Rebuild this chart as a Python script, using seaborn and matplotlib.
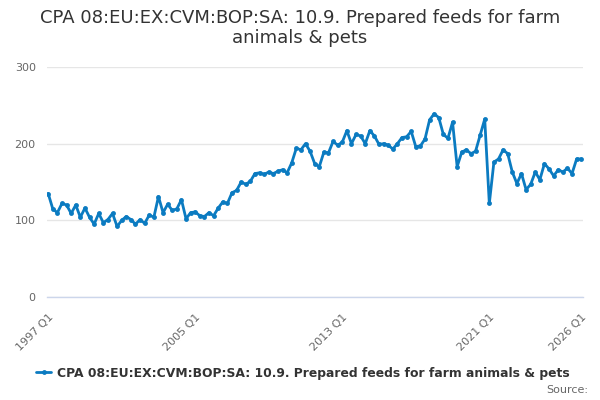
import matplotlib
matplotlib.use('Agg')
import matplotlib.pyplot as plt
import numpy as np
import pandas as pd
import seaborn as sns

series_name = 'CPA 08:EU:EX:CVM:BOP:SA: 10.9. Prepared feeds for farm animals & pets'
title = 'CPA 08:EU:EX:CVM:BOP:SA: 10.9. Prepared feeds for farm\nanimals & pets'

# quarters 1997 Q1 .. 2026 Q1
quarters = [f'{y} Q{q}' for y in range(1997, 2027) for q in range(1, 5)][:117]

values = [
    135, 115, 110, 122, 120, 109, 120, 104, 116, 104,
    95, 109, 97, 101, 109, 92, 100, 105, 101, 95,
    101, 96, 107, 104, 131, 110, 121, 113, 115, 127,
    102, 110, 111, 106, 105, 110, 106, 116, 124, 122,
    136, 139, 150, 147, 151, 161, 162, 160, 163, 161,
    164, 166, 162, 175, 194, 192, 200, 190, 174, 170,
    189, 188, 203, 198, 202, 217, 200, 212, 210, 200,
    217, 210, 199, 200, 198, 193, 200, 208, 209, 216,
    196, 197, 206, 231, 239, 234, 212, 207, 228, 170,
    189, 192, 187, 190, 211, 232, 122, 176, 180, 192,
    187, 163, 148, 161, 140, 147, 163, 153, 174, 167,
    158, 166, 163, 168, 161, 180, 180,
]

tick_pos = list(range(0, 105, 8)) + [116]
label_pos = [0, 32, 64, 96, 116]

df = pd.DataFrame({'pos': np.arange(len(values)), 'quarter': quarters, 'value': values})

sns.set_style('white')
plt.rcParams['font.family'] = ['DejaVu Sans']

fig = plt.figure(figsize=(6, 4), dpi=100)
ax = fig.add_axes([0.078, 0.2575, 0.893, 0.575])

blue = '#0b7bc1'
sns.lineplot(data=df, x='pos', y='value', ax=ax, color=blue, linewidth=2,
             marker='o', markersize=3.5, markeredgewidth=0, label=series_name)

ax.set_xlim(-0.3, 116.3)
ax.set_ylim(0, 300)
ax.set_yticks([0, 100, 200, 300])
ax.yaxis.grid(True, color='#e6e6e6', linewidth=1)
ax.set_axisbelow(True)
ax.tick_params(axis='y', length=0, labelsize=8, labelcolor='#666666', pad=8)

ax.set_xticks(tick_pos)
ax.set_xticklabels([quarters[p] if p in label_pos else '' for p in tick_pos],
                   rotation=45, ha='right', va='top', rotation_mode='anchor')
ax.tick_params(axis='x', length=7, color='#ccd6eb', labelsize=8, labelcolor='#666666', pad=4)

for side in ['top', 'right', 'left']:
    ax.spines[side].set_visible(False)
ax.spines['bottom'].set_color('#ccd6eb')
ax.spines['bottom'].set_linewidth(1)
ax.set_xlabel('')
ax.set_ylabel('')

ax.get_legend().remove()
handles, labels = ax.get_legend_handles_labels()
leg = fig.legend(handles, labels, loc='center', bbox_to_anchor=(0.505, 0.067), frameon=False,
                 prop={'size': 8.9, 'weight': 'bold'}, handlelength=1.2, handletextpad=0.5)
for t in leg.get_texts():
    t.set_color('#333333')

fig.text(0.5, 0.93, title, ha='center', va='center', fontsize=13, color='#333333', linespacing=1.2)
fig.text(0.98, 0.024, 'Source:', ha='right', va='center', fontsize=8, color='#666666')

fig.savefig('out.png', dpi=100)
